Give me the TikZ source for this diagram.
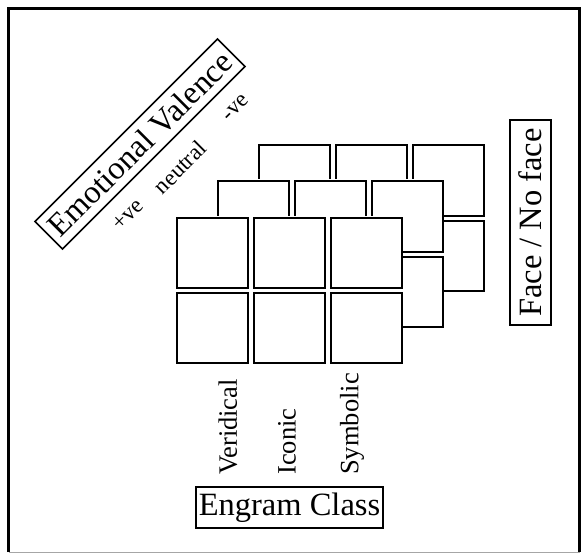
\documentclass[tikz,border=0pt]{standalone}
\usepackage{fontspec}
\setmainfont{Liberation Serif}
\begin{document}
\begin{tikzpicture}[x=1pt,y=-1pt,
  cell/.style={draw=black,line width=2pt,fill=white,minimum width=71pt,minimum height=70pt,inner sep=0pt,anchor=north west},
  bigbox/.style={draw=black,line width=1.6pt,inner sep=0pt,font=\fontsize{32.5}{36}\selectfont},
  coltext/.style={rotate=90,anchor=west,inner sep=0pt,font=\fontsize{26.5}{30}\selectfont},
  valtext/.style={rotate=45,inner sep=0pt,font=\fontsize{23}{26}\selectfont}]
\useasboundingbox (0,0) rectangle (583,556);
% frame
\coordinate (bl) at (8.5,552);
\coordinate (tl) at (8.5,9);
\coordinate (tr) at (579.5,9);
\coordinate (br) at (579.5,552);
\draw[line width=3pt,line join=miter] (bl) -- (tl) -- (tr) -- (br);
\draw[line width=0.8pt,black!35] (bl) -- (br);
% layers: back (2), middle (1), front (0)
\foreach \l in {2,1,0}{
  \fill[white] ({176+41*\l-1},{216.5-36*\l-1}) rectangle ({176+41*\l+225+1},{216.5-36*\l+145.5+1});
  \foreach \c in {0,1,2}{
    \foreach \r in {0,1}{
      \node[cell] (s-\l-\c-\r) at ({176+77*\c+41*\l},{216.5+75.5*\r-36*\l}) {};
    }
  }
}
% labels
\node[bigbox,rotate=45,minimum width=258pt,minimum height=39pt] (ev) at (140,144) {Emotional Valence};
\node[valtext] (pos) at (128,215) {+ve};
\node[valtext] (neu) at (180,167) {neutral};
\node[valtext] (neg) at (236,108) {-ve};
\node[bigbox,rotate=90,minimum width=205pt,minimum height=41pt] (face) at (530.5,222.5) {Face / No face};
\node[coltext] (ver) at (228,475) {Veridical};
\node[coltext] (ico) at (287,475) {Iconic};
\node[coltext] (sym) at (352,475) {Symbolic};
\node[bigbox,minimum width=187pt,minimum height=41pt] (eng) at (289.5,507.5) {Engram Class};
\end{tikzpicture}
\end{document}
